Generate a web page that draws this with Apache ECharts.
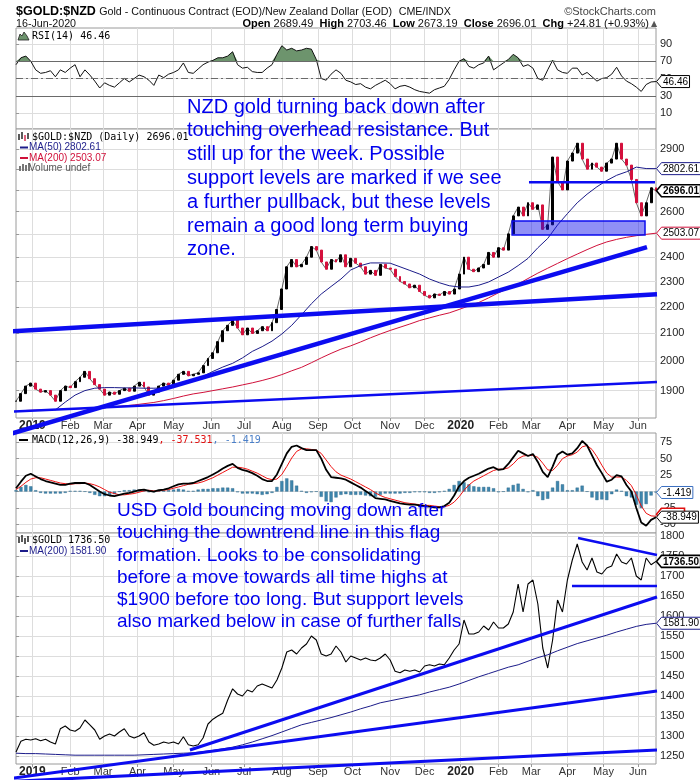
<!DOCTYPE html>
<html>
<head>
<meta charset="utf-8">
<title>$GOLD:$NZD</title>
<script src="https://cdn.jsdelivr.net/npm/echarts@6.0.0/dist/echarts.min.js"></script>
<style>
html,body{margin:0;padding:0;background:#ffffff;}
#chart{width:700px;height:780px;}
</style>
</head>
<body>
<div id="chart"></div>
<script>
// ---------------- DATA ----------------
const START = [2018, 11, 18];   // first trading day shown (weekday calendar)
const END = [2020, 5, 16];      // last trading day shown
const STEP = 3;                 // trading days between samples of the daily arrays
const MA_STEP = 6;              // trading days between samples of the moving averages

// Gold in NZD, closes (every 3rd trading day)
const nzdClose = [1865,1890,1915,1925,1905,1895,1900,1885,1865,1900,
 1915,1910,1930,1945,1965,1940,1920,1905,1885,1895,
 1888,1900,1908,1898,1915,1928,1912,1885,1895,1915,
 1925,1918,1935,1955,1965,1950,1955,1960,1985,2010,
 2030,2070,2110,2130,2150,2120,2095,2120,2100,2110,
 2125,2110,2140,2190,2270,2360,2390,2360,2370,2400,
 2445,2430,2380,2350,2390,2380,2410,2360,2395,2375,
 2360,2330,2345,2325,2370,2355,2350,2320,2300,2290,
 2275,2285,2260,2245,2235,2250,2245,2260,2250,2270,
 2330,2400,2350,2340,2355,2370,2420,2400,2440,2430,
 2500,2580,2620,2580,2640,2610,2630,2520,2540,2860,
 2740,2700,2840,2880,2930,2850,2800,2830,2810,2790,
 2830,2850,2930,2850,2820,2750,2640,2580,2640,2710,
 2696.01];
const nzdMA50 = [null,null,null,null,1837,1862,1885,1900,1908,1910,
 1910,1909,1909,1908,1908,1909,1915,1925,1937,1948,
 1965,1980,1993,2012,2035,2052,2072,2098,2130,2170,
 2212,2250,2280,2310,2347,2365,2376,2376,2375,2360,
 2345,2330,2310,2295,2283,2278,2278,2285,2298,2318,
 2338,2365,2395,2440,2480,2539,2590,2640,2680,2715,
 2745,2770,2787,2810,2803,2802.61];
const nzdMA200 = [null,1835,1836,1837,1838,1839,1840,1841,1842,1844,
 1847,1850,1853,1857,1861,1867,1874,1882,1889,1894,
 1900,1906,1912,1919,1926,1934,1943,1954,1967,1979,
 1995,2012,2028,2043,2055,2069,2084,2098,2111,2123,
 2135,2148,2158,2168,2177,2190,2204,2217,2235,2255,
 2272,2290,2312,2334,2354,2374,2394,2413,2432,2450,
 2465,2476,2485,2492,2498,2503.07];
const rsi14 = [66,74,76,70,60,56,57,59,52,60,
 57,62,66,52,60,54,47,39,45,42,
 40,45,50,46,50,54,52,48,42,54,
 51,55,57,60,68,57,56,61,66,69,
 71,74,74,76,81,66,62,63,58,57,
 57,62,66,78,88,83,85,82,83,85,
 84,72,50,48,55,60,56,48,46,43,
 44,40,38,42,45,48,44,38,41,42,
 40,37,35,34,33,37,39,41,49,60,
 70,73,64,62,66,68,76,60,64,68,
 72,78,74,64,66,62,50,48,60,71,
 60,57,56,62,62,54,57,52,47,50,
 51,55,63,53,47,44,40,35,43,46,
 46.46];
const macdLine = [5,15,24,27,23,19,16,14,12,10,
 10,12,13,13,13,10,5,0,-4,-6,
 -7,-5,-3,-2,0,2,3,1,0,2,
 3,5,8,11,12,12,13,16,19,22,
 26,30,35,39,42,36,33,31,28,24,
 19,16,16,26,42,58,68,70,66,63,
 63,63,50,33,22,21,20,18,14,10,
 6,1,-4,-10,-11,-12,-14,-16,-18,-19,
 -20,-20,-21,-22,-23,-24,-24,-22,-17,-6,
 8,16,21,24,27,31,35,37,33,34,
 42,52,62,58,54,57,45,30,22,38,
 56,61,56,58,66,77,70,55,40,28,
 15,18,25,23,10,0,-25,-47,-52,-43,
 -38.949];
const macdSignal = [3,8,14,19,21,21,19,17,15,13,
 12,11,12,12,13,12,10,7,3,-1,
 -3,-5,-5,-4,-3,-1,1,2,1,1,
 2,3,5,7,9,11,12,13,15,18,
 21,25,29,33,37,37,36,34,31,28,
 24,20,18,19,26,38,51,61,65,65,
 64,63,58,48,38,30,25,22,19,15,
 11,7,3,-2,-6,-9,-11,-13,-15,-17,
 -18,-19,-20,-21,-21,-22,-23,-23,-21,-16,
 -8,2,10,16,20,24,28,32,34,34,
 36,42,50,54,55,55,52,43,33,32,
 40,50,54,56,60,68,70,64,53,40,
 28,22,22,22,17,9,-5,-22,-33,-37,
 -37.531];
const macdHist = [2,7,10,8,2,-2,-3,-3,-3,-3,
 -2,1,1,1,0,-2,-5,-7,-7,-5,
 -4,0,2,2,3,3,2,-1,-1,1,
 1,2,3,4,3,1,1,3,4,4,
 5,5,6,6,5,-1,-3,-3,-3,-4,
 -5,-4,-2,7,16,20,17,9,1,-2,
 -1,0,-8,-15,-16,-9,-5,-4,-5,-5,
 -5,-6,-7,-8,-5,-3,-3,-3,-3,-2,
 -2,-1,-1,-1,-2,-2,-1,1,4,10,
 16,14,11,8,7,7,7,5,-1,0,
 6,10,12,4,-1,2,-7,-13,-11,6,
 16,11,2,2,6,9,0,-9,-13,-12,
 -13,-4,3,1,-7,-9,-20,-25,-19,-6,
 -1.419];
// Gold in USD
const usdClose = [1260,1287,1292,1290,1293,1288,1292,1285,1280,1318,
 1325,1315,1312,1320,1340,1328,1315,1292,1300,1305,
 1300,1310,1318,1300,1295,1300,1308,1285,1277,1280,
 1285,1282,1285,1280,1298,1278,1275,1278,1295,1330,
 1342,1350,1357,1390,1418,1405,1400,1415,1410,1425,
 1430,1425,1420,1440,1470,1510,1515,1505,1520,1530,
 1550,1540,1505,1500,1505,1525,1510,1485,1500,1495,
 1490,1495,1490,1488,1495,1505,1490,1462,1458,1465,
 1462,1465,1460,1475,1478,1475,1480,1478,1495,1515,
 1530,1590,1555,1555,1560,1575,1565,1585,1570,1570,
 1580,1610,1680,1610,1680,1690,1630,1520,1470,1540,
 1640,1610,1690,1740,1780,1735,1715,1745,1710,1705,
 1720,1725,1755,1735,1730,1745,1700,1690,1745,1728,
 1736.5];
const usdMA200 = [1257,1256,1256,1255,1254,1253,1252,1252,1252,1252,
 1252,1252,1252,1253,1254,1255,1256,1257,1258,1261,
 1264,1268,1272,1278,1285,1293,1301,1310,1319,1328,
 1334,1340,1346,1353,1360,1368,1375,1383,1388,1393,
 1398,1403,1410,1416,1422,1430,1439,1448,1456,1464,
 1472,1478,1487,1496,1503,1513,1522,1531,1538,1545,
 1552,1560,1567,1574,1579,1581.9];

// axis tick labels
const rsiTicks = [10, 30, 50, 70, 90];
const rsiLevels = [30, 50, 70];
const nzdTicks = [1900, 2000, 2100, 2200, 2300, 2400, 2500, 2600, 2700, 2800, 2900];
const macdTicks = [-50, -25, 0, 25, 50, 75];
const usdTicks = [1250, 1300, 1350, 1400, 1450, 1500, 1550, 1600, 1650, 1700, 1750, 1800];
const monthNames = ['Jan','Feb','Mar','Apr','May','Jun','Jul','Aug','Sep','Oct','Nov','Dec'];

// hand-drawn annotations: [trading-day index, price]
const nzdSteepTrend = [[-9.75, 1752], [384.5, 2443]];
const nzdFlatTrend = [[-9.75, 2105], [390.6, 2249]];
const nzdLowTrend = [[-9.75, 1830], [390.6, 1929]];
const nzdResistance = [[312.6, 2737], [389.4, 2737]];
const nzdSupportZone = [[302.3, 2557], [383.3, 2495]];
const usdUpperTrend = [[106, 1265], [390.6, 1647.5]];
const usdMidTrend = [[-9.75, 1190], [390.6, 1412.5]];
const usdLowTrend = [[-9.75, 1185], [390.6, 1265]];
const usdFlagTop = [[342.5, 1795], [390.6, 1752.5]];
const usdFlagBottom = [[338.8, 1675], [390.6, 1675]];

const nzdNote = ['NZD gold turning back down after','touching overhead resistance. But','still up for the week. Possible','support levels are marked if we see','a further pullback, but these levels','remain a good long term buying','zone.'];
const usdNote = ['USD Gold bouncing moving down after','touching the downtrend line in this flag','formation. Looks to be consolidating','before a move towards all time highs at','$1900 before too long. But support levels','also marked below in case of further falls'];

// ---------------- BUILD ----------------
const dates = [];
(function(){
  const end = new Date(END[0], END[1], END[2]);
  for (let d = new Date(START[0], START[1], START[2]); d <= end; d.setDate(d.getDate() + 1)) {
    const w = d.getDay();
    if (w > 0 && w < 6) dates.push(new Date(d));
  }
})();
const LAST = dates.length - 1;
const monthStarts = [];
for (let i = 1; i < dates.length; i++) if (dates[i].getMonth() !== dates[i-1].getMonth()) monthStarts.push(i);
function xLabel(v) {
  const d = dates[Math.round(v)];
  if (!d) return '';
  return d.getMonth() === 0 ? '{y|' + d.getFullYear() + '}' : monthNames[d.getMonth()];
}
const pts = (arr, step) => arr.map((v, i) => [Math.min(i * step, LAST), v]).filter(p => p[1] != null);
const last = arr => arr[arr.length - 1];
const nzdCandles = nzdClose.map((c, i) => {
  const o = i ? nzdClose[i-1] : c;
  return [i * STEP, o, c, Math.min(o, c), Math.max(o, c)];
});

const BLUE = '#0c0cf0';
const GRID_L = 16, GRID_W = 640, GRID_R = GRID_L + GRID_W;
const FONT = 'Liberation Sans';

function mkGrid(top, height) {
  return {left: GRID_L, width: GRID_W, top, height, show: true, borderColor: '#9a9a9a', borderWidth: 1,
          backgroundColor: '#fff', containLabel: false, outerBoundsMode: 'none'};
}
function mkX(gi, showLabel) {
  return {type: 'value', gridIndex: gi, min: 0, max: LAST,
    axisLine: {show: false},
    axisTick: {show: showLabel, customValues: monthStarts, length: 3, lineStyle: {color: '#999'}},
    axisLabel: {show: showLabel, customValues: monthStarts, formatter: xLabel, margin: 2, color: '#333',
      fontSize: 11, fontFamily: FONT,
      rich: {y: {fontWeight: 'bold', fontSize: 12, color: '#222', fontFamily: FONT}}},
    splitLine: {show: true, lineStyle: {color: '#dddddd', width: 1}}};
}
function mkY(gi, ticks, extra) {
  return Object.assign({gridIndex: gi, position: 'right',
    axisLine: {show: false},
    axisTick: {show: true, customValues: ticks, length: 3, lineStyle: {color: '#999'}},
    axisLabel: {customValues: ticks, margin: 4, color: '#222', fontSize: 11, fontFamily: FONT,
      formatter: v => String(Math.round(v))},
    splitLine: {show: true, lineStyle: {color: '#dddddd', width: 1}}}, extra);
}
function lineS(xi, data, color, width, z, extra) {
  return Object.assign({type: 'line', xAxisIndex: xi, yAxisIndex: xi, data, symbol: 'none', showSymbol: false,
    lineStyle: {color, width}, itemStyle: {color}, silent: true, z: z || 3}, extra || {});
}
function trendS(xi, data, width) {
  return {type: 'line', xAxisIndex: xi, yAxisIndex: xi, data, symbol: 'none', showSymbol: false, clip: false,
    lineStyle: {color: BLUE, width, cap: 'butt'}, silent: true, z: 8};
}

const option = {
  animation: false,
  backgroundColor: '#ffffff',
  grid: [mkGrid(28, 101), mkGrid(129, 289), mkGrid(433, 100), mkGrid(533, 231)],
  xAxis: [mkX(0, false), mkX(1, true), mkX(2, false), mkX(3, true)],
  yAxis: [
    mkY(0, rsiTicks, {type: 'value', min: -8.5, max: 108.5}),
    mkY(1, nzdTicks, {type: 'log', logBase: 10, min: 1811, max: 3004}),
    mkY(2, macdTicks, {type: 'value', min: -63, max: 89}),
    mkY(3, usdTicks, {type: 'value', min: 1230, max: 1807.5})
  ],
  series: [
    // RSI
    lineS(0, pts(rsi14.map(v => Math.max(v, 70)), STEP), '#6d946d', 0, 2,
      {areaStyle: {color: '#6d946d', opacity: 1, origin: 70}}),
    lineS(0, pts(rsi14, STEP), '#111', 1, 4, {
      markLine: {silent: true, symbol: ['none', 'none'], label: {show: false}, animation: false,
        data: rsiLevels.map(v => ({yAxis: v, lineStyle: {color: '#6a6a6a', width: 1, type: v === 50 ? [7, 3, 2, 3] : 'solid'}}))}
    }),
    // NZD gold
    lineS(1, pts(nzdClose, STEP), '#222', 0.7, 2),
    {type: 'candlestick', xAxisIndex: 1, yAxisIndex: 1, data: nzdCandles, encode: {x: 0, y: [1, 2, 3, 4]},
      barWidth: 2.4, silent: true, z: 3,
      itemStyle: {color: '#000', color0: '#d4103c', borderColor: '#000', borderColor0: '#d4103c', borderWidth: 1}},
    lineS(1, pts(nzdMA50, MA_STEP), '#1c1c8a', 1, 4),
    lineS(1, pts(nzdMA200, MA_STEP), '#d0103a', 1, 4),
    trendS(1, nzdSteepTrend, 4.5),
    trendS(1, nzdFlatTrend, 4.5),
    trendS(1, nzdLowTrend, 2.5),
    Object.assign(trendS(1, nzdResistance, 2.5), {
      markArea: {silent: true, z: 7,
        itemStyle: {color: 'rgba(20,20,235,0.47)', borderColor: BLUE, borderWidth: 1.5},
        data: [[{coord: nzdSupportZone[0]}, {coord: nzdSupportZone[1]}]]}
    }),
    // MACD
    {type: 'bar', xAxisIndex: 2, yAxisIndex: 2, data: pts(macdHist, STEP), barWidth: 3.2, silent: true, z: 2,
      itemStyle: {color: '#3f86ad', borderColor: '#2b6488', borderWidth: 0.4}},
    lineS(2, pts(macdSignal, STEP), '#ee1111', 1, 4),
    lineS(2, pts(macdLine, STEP), '#000', 1.8, 5),
    // USD gold
    lineS(3, pts(usdClose, STEP), '#000', 1.1, 3),
    lineS(3, pts(usdMA200, MA_STEP), '#1c1c8a', 1, 4),
    trendS(3, usdUpperTrend, 3),
    trendS(3, usdMidTrend, 3),
    trendS(3, usdLowTrend, 3),
    trendS(3, usdFlagTop, 2.5),
    trendS(3, usdFlagBottom, 2.5)
  ]
};

const chart = echarts.init(document.getElementById('chart'), null, {renderer: 'canvas', width: 700, height: 780});
chart.setOption(option);

// ---------------- GRAPHICS (texts, legends, value tags) ----------------
const mctx = document.createElement('canvas').getContext('2d');
function tw(text, font) { mctx.font = font; return mctx.measureText(text).width; }
function txt(x, y, text, font, fill, extra) {
  return Object.assign({type: 'text', x, y, z: 50, silent: true,
    style: Object.assign({text, font, fill, verticalAlign: 'middle'}, extra && extra.style || {})}, extra && extra.el || {});
}
function dash(x1, x2, y, color) {
  return {type: 'line', z: 50, silent: true, shape: {x1, y1: y, x2, y2: y}, style: {stroke: color, lineWidth: 2}};
}
function tag(ai, value, text, stroke, bold, lw, dy) {
  const y = chart.convertToPixel({yAxisIndex: ai}, value) + (dy || 0);
  const font = (bold ? 'bold ' : '') + '10px "' + FONT + '"';
  const w = Math.max(tw(text, font), 20) + 3, h = 12, x0 = GRID_R + 0.5, xb = x0 + 5;
  const children = [
    {type: 'polygon', z: 60, shape: {points: [[x0, y], [xb, y - h/2], [xb + w, y - h/2], [xb + w, y + h/2], [xb, y + h/2]]},
      style: {fill: '#fff', stroke, lineWidth: lw || 1}}];
  if (text) children.push({type: 'text', z: 61, x: xb + 1.5, y: y + 0.5, style: {text, font, fill: '#000', verticalAlign: 'middle'}});
  return {type: 'group', z: 60, silent: true, children};
}
const MONO = '10px "DejaVu Sans Mono"';
const SANS10 = '10px "' + FONT + '"';
const g = [];
// header
g.push(txt(16, 12, '{a|$GOLD:$NZD} {b|Gold - Continuous Contract (EOD)/New Zealand Dollar (EOD)}  {b|CME/INDX}', '', '#000', {style: {
  rich: {a: {font: 'bold 12.5px "' + FONT + '"', fill: '#000'}, b: {font: '10.7px "' + FONT + '"', fill: '#111'}}}}));
g.push(txt(GRID_R, 12, '\u00A9StockCharts.com', '11px "' + FONT + '"', '#444', {style: {align: 'right'}}));
g.push(txt(16, 24, '16-Jun-2020', '10.7px "' + FONT + '"', '#111'));
g.push(txt(649, 24, '{b|Open} 2689.49  {b|High} 2703.46  {b|Low} 2673.19  {b|Close} 2696.01  {b|Chg} +24.81 (+0.93%)', '11px "' + FONT + '"', '#111', {style: {
  align: 'right', rich: {b: {font: 'bold 11px "' + FONT + '"', fill: '#000'}}}}));
g.push(txt(651, 23.5, '\u25B2', '8px "DejaVu Sans"', '#555'));
// RSI legend
g.push({type: 'polygon', z: 50, silent: true, shape: {points: [[18, 40], [20, 34], [22, 36], [24, 32], [27, 36], [29, 40]]},
  style: {fill: '#6d946d', stroke: '#222', lineWidth: 0.8}});
g.push(txt(32, 36, 'RSI(14) ' + last(rsi14).toFixed(2), MONO, '#000'));
// NZD legend
[[19, 134, 140], [22, 132, 139], [25, 135, 141], [28, 133, 139]].forEach((b, i) =>
  g.push({type: 'line', z: 50, silent: true, shape: {x1: b[0], y1: b[1], x2: b[0], y2: b[2]}, style: {stroke: i === 2 ? '#d0103a' : '#000', lineWidth: 1.3}}));
g.push(txt(32, 137, '$GOLD:$NZD (Daily) ' + last(nzdClose).toFixed(2), MONO, '#000'));
g.push(dash(20, 28, 147.5, '#1c1c8a'));
g.push(txt(29, 147.5, 'MA(50) ' + last(nzdMA50).toFixed(2), SANS10, '#1c1c8a'));
g.push(dash(20, 28, 158, '#d0103a'));
g.push(txt(29, 158, 'MA(200) ' + last(nzdMA200).toFixed(2), SANS10, '#d0103a'));
[[19, 166, 5], [22, 164, 7], [25, 165, 6], [28, 163, 8]].forEach(b =>
  g.push({type: 'rect', z: 50, silent: true, shape: {x: b[0], y: b[1], width: 2, height: b[2]}, style: {fill: '#777'}}));
g.push(txt(29, 168, 'Volume undef', SANS10, '#555'));
// MACD legend
g.push(dash(19, 28, 440, '#000'));
g.push(txt(32, 440, '{k|MACD(12,26,9) ' + last(macdLine).toFixed(3) + '}{r|, ' + last(macdSignal).toFixed(3) + '}{b|, ' + last(macdHist).toFixed(3) + '}', MONO, '#000', {style: {
  rich: {k: {font: MONO, fill: '#000'}, r: {font: MONO, fill: '#e01010'}, b: {font: MONO, fill: '#4a7fc8'}}}}));
// USD legend
[[19, 537, 543], [22, 535, 542], [25, 538, 544], [28, 536, 542]].forEach(b =>
  g.push({type: 'line', z: 50, silent: true, shape: {x1: b[0], y1: b[1], x2: b[0], y2: b[2]}, style: {stroke: '#000', lineWidth: 1.3}}));
g.push(txt(32, 540, '$GOLD ' + last(usdClose).toFixed(2), MONO, '#000'));
g.push(dash(20, 28, 551, '#1c1c8a'));
g.push(txt(29, 551, 'MA(200) ' + last(usdMA200).toFixed(2), SANS10, '#1c1c8a'));
// annotations
g.push({type: 'text', x: 187, y: 95.2, z: 70, silent: true, style: {text: nzdNote.join('\n'), font: '20px "' + FONT + '"', fill: '#0000ee', lineHeight: 23.8, verticalAlign: 'top'}});
g.push({type: 'text', x: 117, y: 499.9, z: 70, silent: true, style: {text: usdNote.join('\n'), font: '19px "' + FONT + '"', fill: '#0000ee', lineHeight: 22.2, verticalAlign: 'top'}});
// value tags on the right axis
g.push(tag(0, last(rsi14), last(rsi14).toFixed(2), '#000'));
g.push(tag(1, last(nzdMA50), last(nzdMA50).toFixed(2), '#1c1c8a'));
g.push(tag(1, last(nzdMA200), last(nzdMA200).toFixed(2), '#d0103a'));
g.push(tag(1, last(nzdClose), last(nzdClose).toFixed(2), '#000', true, 1.6));
g.push(tag(2, last(macdHist), last(macdHist).toFixed(3), '#3a6fc0'));
g.push(tag(2, last(macdLine), '', '#e01010', false, 1.6, -3));
g.push(tag(2, last(macdLine), last(macdLine).toFixed(3), '#000'));
g.push(tag(3, last(usdMA200), last(usdMA200).toFixed(2), '#1c1c8a'));
g.push(tag(3, last(usdClose), last(usdClose).toFixed(2), '#000', true, 1.6));
chart.setOption({graphic: g});
</script>
</body>
</html>
